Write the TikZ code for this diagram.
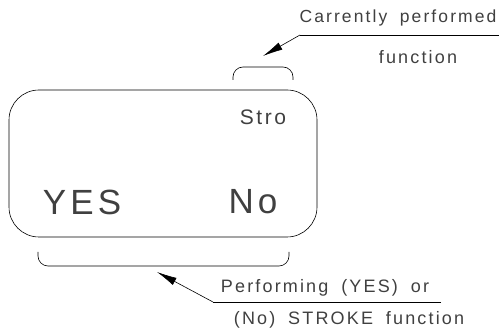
\documentclass[tikz,border=0pt]{standalone}
\usepackage{fontspec}
\setmainfont{Liberation Sans}[LetterSpace=12, WordSpace=1.8]
\usetikzlibrary{arrows.meta}
\tikzset{
    lbl/.style={text=black!75, inner sep=0pt, font=\fontsize{18}{18}\selectfont},
    leader/.style={line width=0.6pt, -{Latex[length=20pt,width=8pt]}}
}
\begin{document}
\begin{tikzpicture}[x=1pt, y=-1pt, line width=0.6pt]
    \useasboundingbox (0,0) rectangle (499,331);

    % Display window
    \draw[rounded corners=30pt] (9,90) rectangle (317,237);
    \node[lbl, font=\fontsize{21}{21}\selectfont] (stro) at (263,117) {Stro};
    \node[lbl, font=\fontsize{35}{35}\selectfont] (yes) at (82,202) {YES};
    \node[lbl, font=\fontsize{35}{35}\selectfont] (no) at (253,202) {No};

    % Bracket over current function
    \draw[rounded corners=10pt] (233,80) -- (233,67) -- (293,67) -- (293,80);
    \coordinate (topTip) at (263,56);
    \coordinate (topKnee) at (300,35);
    \coordinate (topEnd) at (499,35);
    \draw (topEnd) -- (topKnee);
    \draw[leader] (topKnee) -- (topTip);
    \node[lbl, font=\fontsize{17.5}{17.5}\selectfont] (curr) at (398,18) {Carrently performed};
    \node[lbl] (func) at (418,57) {function};

    % Bracket under YES / No
    \draw[rounded corners=10pt] (38,252) -- (38,266) -- (289,266) -- (289,252);
    \coordinate (botTip) at (157,272);
    \coordinate (botKnee) at (213,302);
    \coordinate (botEnd) at (441,302);
    \draw (botEnd) -- (botKnee);
    \draw[leader] (botKnee) -- (botTip);
    \node[lbl] (perf) at (325,288) {Performing (YES) or};
    \node[lbl] (strk) at (349,320) {(No) STROKE function};
\end{tikzpicture}
\end{document}
